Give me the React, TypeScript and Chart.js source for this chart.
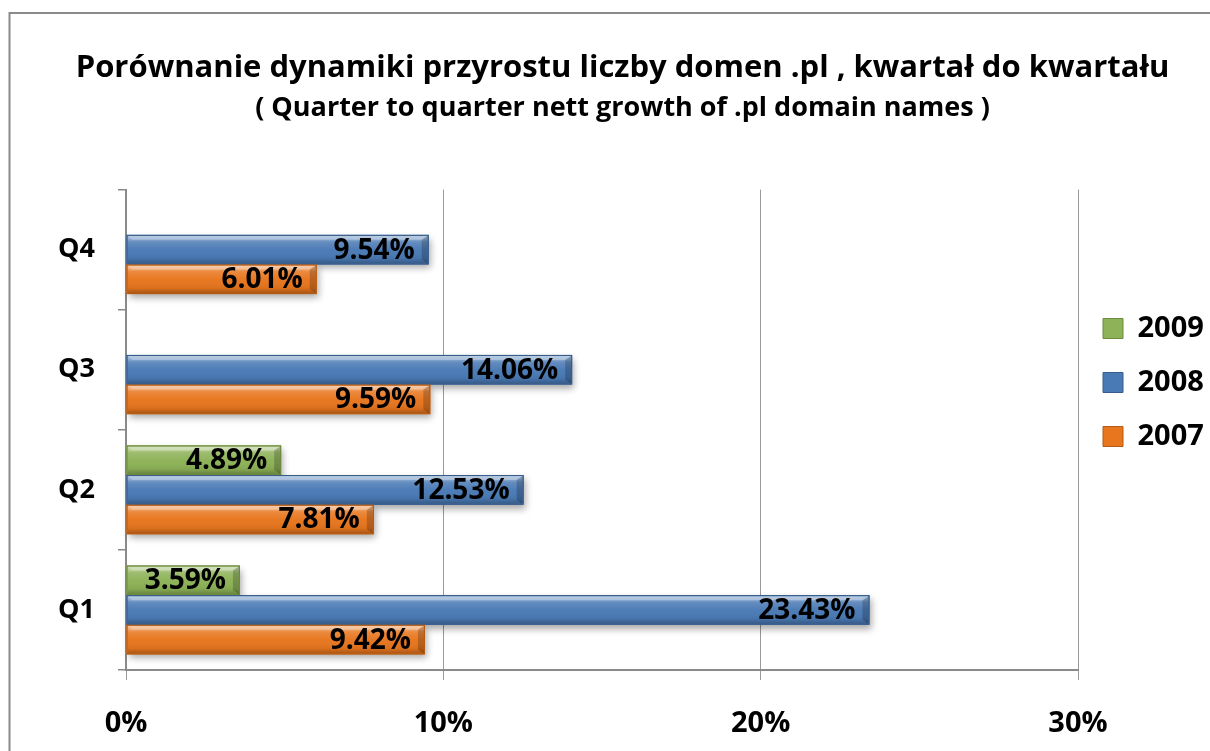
import React, { useEffect, useRef } from 'react';
import { Chart, registerables } from 'chart.js';

Chart.register(...registerables);

const categories = ['Q4', 'Q3', 'Q2', 'Q1'];
const seriesLabels = ['2009', '2008', '2007'];
const values2009: (number | null)[] = [null, null, 4.89, 3.59];
const values2008: (number | null)[] = [9.54, 14.06, 12.53, 23.43];
const values2007: (number | null)[] = [6.01, 9.59, 7.81, 9.42];
const xMin = 0;
const xMax = 30;
const xStep = 10;

const titleText = 'Porównanie dynamiki przyrostu liczby domen .pl , kwartał do kwartału';
const subtitleText = '( Quarter to quarter nett growth of .pl domain names )';

const FONT = '"Open Sans", "DejaVu Sans", sans-serif';

const fills = ['#8db257', '#4a7ab5', '#e8761e'];
const edges = ['#6d8a3d', '#385d8a', '#b35b14'];

function barRect(el: any) {
  const p = el.getProps(['x', 'y', 'base', 'height'], true);
  const left = Math.min(p.base, p.x);
  const right = Math.max(p.base, p.x);
  const top = p.y - p.height / 2;
  const bottom = p.y + p.height / 2;
  return { left, right, top, bottom, cy: p.y, end: p.x };
}

const framePlugin = {
  id: 'frame',
  beforeDraw(chart: any) {
    const ctx = chart.ctx;
    ctx.save();
    ctx.fillStyle = '#ffffff';
    ctx.fillRect(0, 0, chart.width, chart.height);
    ctx.strokeStyle = '#8a8a8a';
    ctx.lineWidth = 2;
    ctx.strokeRect(9.5, 13, chart.width + 40, chart.height + 40);
    ctx.restore();
  },
};

const barDecor = {
  id: 'barDecor',
  beforeDatasetsDraw(chart: any) {
    const ctx = chart.ctx;
    ctx.save();
    chart.data.datasets.forEach((ds: any, di: number) => {
      const meta = chart.getDatasetMeta(di);
      meta.data.forEach((el: any, i: number) => {
        if (ds.data[i] == null) return;
        const r = barRect(el);
        ctx.shadowColor = 'rgba(0,0,0,0.35)';
        ctx.shadowBlur = 7;
        ctx.shadowOffsetX = 2;
        ctx.shadowOffsetY = 4;
        ctx.fillStyle = fills[di];
        ctx.fillRect(r.left, r.top, r.right - r.left, r.bottom - r.top);
      });
    });
    ctx.restore();
  },
  afterDatasetsDraw(chart: any) {
    const ctx = chart.ctx;
    ctx.save();
    chart.data.datasets.forEach((ds: any, di: number) => {
      const meta = chart.getDatasetMeta(di);
      meta.data.forEach((el: any, i: number) => {
        if (ds.data[i] == null) return;
        const r = barRect(el);
        const w = r.right - r.left;
        const h = r.bottom - r.top;
        const g = ctx.createLinearGradient(0, r.top, 0, r.bottom);
        g.addColorStop(0, 'rgba(255,255,255,0.5)');
        g.addColorStop(0.14, 'rgba(255,255,255,0.4)');
        g.addColorStop(0.24, 'rgba(255,255,255,0.15)');
        g.addColorStop(0.5, 'rgba(255,255,255,0.02)');
        g.addColorStop(0.8, 'rgba(0,0,0,0.06)');
        g.addColorStop(1, 'rgba(0,0,0,0.3)');
        ctx.fillStyle = g;
        ctx.fillRect(r.left + 1, r.top + 1, w - 2, h - 2);
        ctx.fillStyle = 'rgba(0,0,0,0.2)';
        ctx.beginPath();
        ctx.moveTo(r.right - 1, r.top + 1);
        ctx.lineTo(r.right - 1, r.bottom - 1);
        ctx.lineTo(r.right - 7, r.bottom - 5);
        ctx.lineTo(r.right - 7, r.top + 5);
        ctx.closePath();
        ctx.fill();
        ctx.fillStyle = 'rgba(255,255,255,0.25)';
        ctx.beginPath();
        ctx.moveTo(r.left + 1, r.top + 1);
        ctx.lineTo(r.right - 1, r.top + 1);
        ctx.lineTo(r.right - 7, r.top + 5);
        ctx.lineTo(r.left + 6, r.top + 5);
        ctx.closePath();
        ctx.fill();
        ctx.strokeStyle = edges[di];
        ctx.lineWidth = 1;
        ctx.strokeRect(r.left + 0.5, r.top + 0.5, w - 1, h - 1);
      });
    });
    ctx.font = `bold 28px ${FONT}`;
    ctx.fillStyle = '#000000';
    ctx.textAlign = 'right';
    ctx.textBaseline = 'middle';
    chart.data.datasets.forEach((ds: any, di: number) => {
      const meta = chart.getDatasetMeta(di);
      meta.data.forEach((el: any, i: number) => {
        const v = ds.data[i];
        if (v == null) return;
        const r = barRect(el);
        ctx.fillText(`${v.toFixed(2)}%`, r.right - 14, r.cy + 1);
      });
    });
    ctx.restore();
  },
};

export default function App() {
  const ref = useRef<HTMLCanvasElement | null>(null);
  useEffect(() => {
    if (!ref.current) return;
    const series = [values2009, values2008, values2007];
    const chart = new Chart(ref.current, {
      type: 'bar',
      data: {
        labels: categories,
        datasets: seriesLabels.map((lab, i) => ({
          label: lab,
          data: series[i],
          backgroundColor: fills[i],
          borderColor: edges[i],
          borderWidth: 1,
          barPercentage: 1,
          categoryPercentage: 0.74,
        })),
      },
      options: {
        indexAxis: 'y',
        responsive: false,
        animation: false,
        layout: { padding: { left: 35, right: 0, top: 0, bottom: 0 } },
        scales: {
          x: {
            min: xMin,
            max: xMax,
            afterFit: (scale: any) => { scale.height = 81; },
            ticks: {
              stepSize: xStep,
              callback: (v: any) => `${v}%`,
              color: '#000',
              font: { family: FONT, size: 29, weight: 'bold' },
              padding: 26,
            },
            grid: { color: '#9a9a9a', lineWidth: 1, tickLength: 10, drawTicks: true },
            border: { display: true, color: '#8a8a8a', width: 2 },
          },
          y: {
            afterFit: (scale: any) => { scale.width = 91; },
            ticks: {
              color: '#000',
              font: { family: FONT, size: 27, weight: 'bold' },
              padding: 23,
            },
            grid: { drawOnChartArea: false, drawTicks: true, tickLength: 8, color: '#8a8a8a', lineWidth: 1.5, offset: true },
            border: { display: true, color: '#8a8a8a', width: 2 },
          },
        },
        plugins: {
          title: {
            display: true,
            text: titleText,
            color: '#000',
            font: { family: FONT, size: 31, weight: 'bold', lineHeight: 1.2 },
            padding: { top: 50, bottom: 0 },
          },
          subtitle: {
            display: true,
            text: subtitleText,
            color: '#000',
            font: { family: FONT, size: 27, weight: 'bold', lineHeight: 1.2 },
            padding: { top: 5, bottom: 65 },
          },
          legend: {
            display: true,
            position: 'right',
            align: 'start',
            fullSize: false,
            maxWidth: 132,
            title: { display: true, text: ' ', font: { size: 12 }, padding: { top: 85, bottom: 0 } },
            labels: {
              boxWidth: 20,
              boxHeight: 20,
              padding: 25,
              color: '#000',
              font: { family: FONT, size: 29, weight: 'bold' },
            },
          },
          tooltip: { enabled: false },
        },
      },
      plugins: [framePlugin, barDecor],
    } as any);
    return () => chart.destroy();
  }, []);
  return (
    <div style={{ position: 'absolute', left: 0, top: 0, width: 1210, height: 751 }}>
      <canvas ref={ref} width={1210} height={751} style={{ display: 'block' }} />
    </div>
  );
}
